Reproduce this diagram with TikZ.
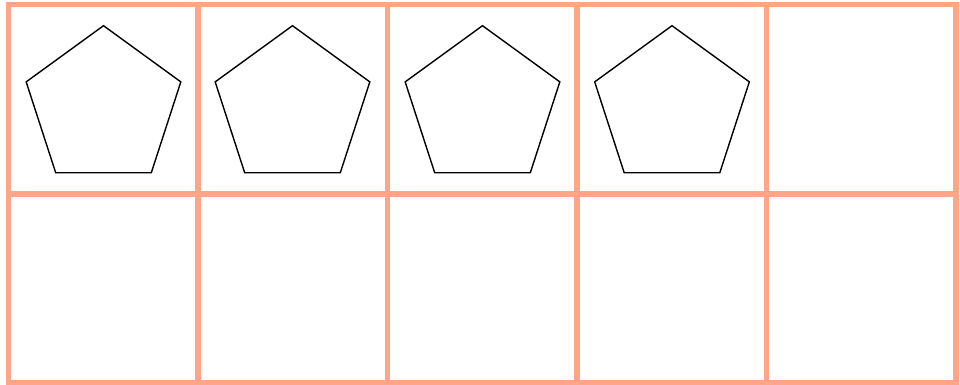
\documentclass[tikz,border=0pt]{standalone}
\usetikzlibrary{shapes.geometric}
\definecolor{gridc}{RGB}{255,166,136}
\tikzset{
  gridline/.style={draw=gridc,line width=5.5pt},
  pent/.style={regular polygon,regular polygon sides=5,draw=black,line width=1.4pt,inner sep=0pt,minimum size=162.6pt,fill=white}
}
\begin{document}
\begin{tikzpicture}[x=1pt,y=-1pt]
\useasboundingbox (0,0) rectangle (960,385);
\foreach \x in {8.5,198,387.5,577,766.5,956}
  \draw[gridline] (\x,4.5) -- (\x,383);
\foreach \y in {4.5,194,383}
  \draw[gridline] (8.5,\y) -- (956,\y);
\draw[gridline] (8.5,4.5) rectangle (956,383);
\node[pent] (p1) at (103.5,107) {};
\node[pent] (p2) at (292.5,107) {};
\node[pent] (p3) at (482.5,107) {};
\node[pent] (p4) at (672,107) {};
\end{tikzpicture}
\end{document}
